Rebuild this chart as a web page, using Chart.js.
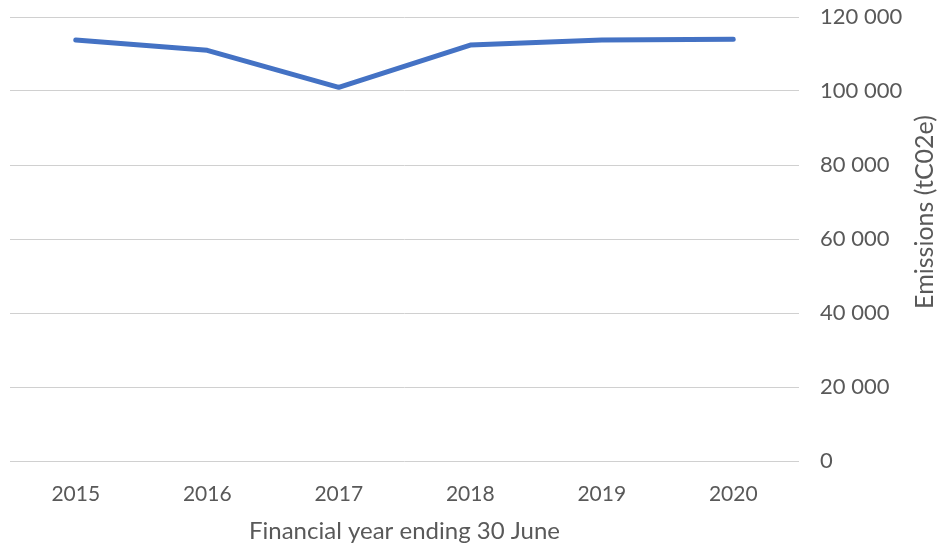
<!DOCTYPE html>
<html>
<head>
<meta charset="utf-8">
<script src="https://cdn.jsdelivr.net/npm/chart.js@4"></script>
<style>
  html, body { margin: 0; padding: 0; background: #fff; }
  #wrap { width: 939px; height: 550px; }
</style>
</head>
<body>
<div id="wrap"><canvas id="chart" width="939" height="550"></canvas></div>
<script>
// ---- DATA ----
const years = ["2015", "2016", "2017", "2018", "2019", "2020"];
const emissions = [113800, 111000, 101000, 112400, 113800, 114000];
const yTicks = [0, 20000, 40000, 60000, 80000, 100000, 120000];

const textColor = "#595959";
const fontFamily = "Lato, 'Open Sans', sans-serif";

// space as thousands separator, e.g. 120 000
function fmt(v) {
  return String(v).replace(/\B(?=(\d{3})+(?!\d))/g, " ");
}

// y title reads bottom-to-top on the right side
const yTitlePlugin = {
  id: "yTitle",
  afterDraw(chart) {
    const ctx = chart.ctx;
    ctx.save();
    ctx.translate(925, 212);
    ctx.rotate(-Math.PI / 2);
    ctx.font = "25px " + fontFamily;
    ctx.fillStyle = textColor;
    ctx.textAlign = "center";
    ctx.textBaseline = "middle";
    ctx.fillText("Emissions (tC02e)", 0, 0);
    ctx.restore();
  }
};

new Chart(document.getElementById("chart"), {
  type: "line",
  data: {
    labels: years,
    datasets: [{
      label: "Emissions",
      data: emissions,
      borderColor: "#4472C4",
      borderWidth: 5,
      pointRadius: 0,
      tension: 0,
      borderCapStyle: "round",
      borderJoinStyle: "round"
    }]
  },
  options: {
    responsive: false,
    animation: false,
    layout: { padding: { top: 17, left: 10, right: 0, bottom: 0 } },
    plugins: {
      legend: { display: false },
      tooltip: { enabled: false }
    },
    scales: {
      x: {
        offset: true,
        grid: { display: false, drawTicks: false },
        border: { display: false },
        ticks: { color: textColor, font: { family: fontFamily, size: 21 }, padding: 21 },
        title: {
          display: true,
          text: "Financial year ending 30 June",
          color: textColor,
          font: { family: fontFamily, size: 24 },
          padding: { top: 10 }
        },
        afterFit: s => { s.height = 89; }
      },
      y: {
        position: "right",
        min: 0,
        max: 120000,
        afterBuildTicks: s => { s.ticks = yTicks.map(v => ({ value: v })); },
        grid: { color: "#d0d0d0", lineWidth: 1, drawTicks: false },
        border: { display: false },
        ticks: {
          color: textColor,
          font: { family: fontFamily, size: 22 },
          padding: 21,
          callback: v => fmt(v)
        },
        afterFit: s => { s.width = 140; s.paddingTop = 0; s.paddingBottom = 0; }
      }
    }
  },
  plugins: [yTitlePlugin]
});
</script>
</body>
</html>
